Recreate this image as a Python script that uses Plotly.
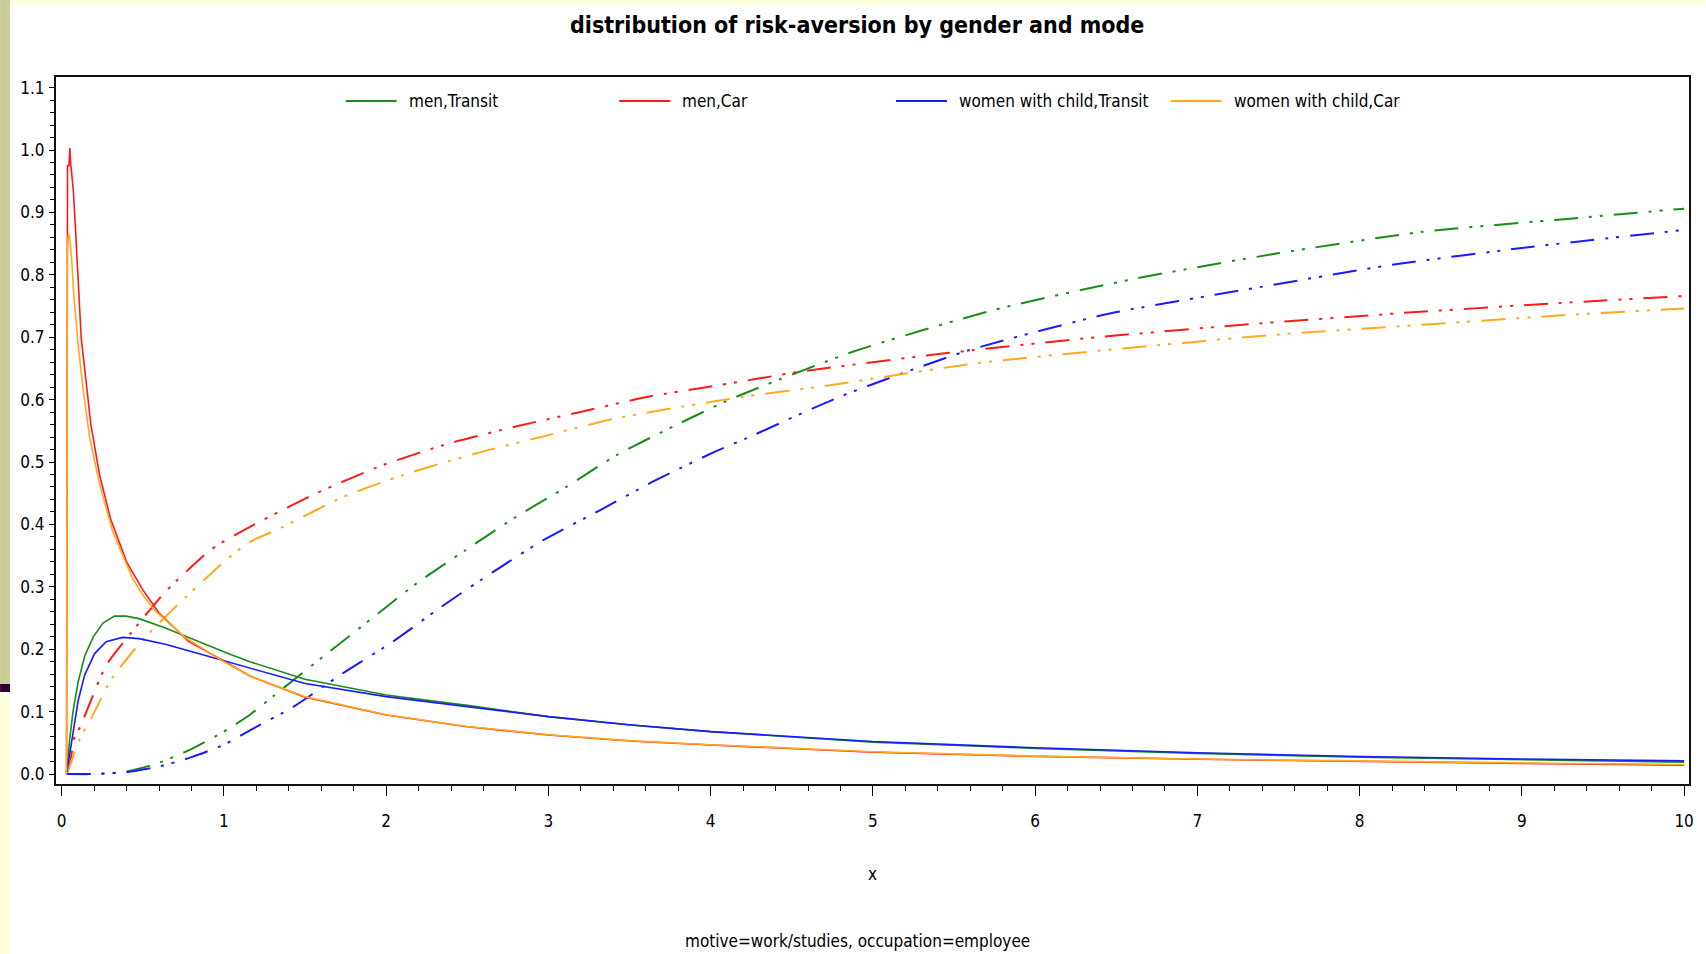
import plotly.graph_objects as go

# ------------------------------------------------------------------ data
groups = ["men,Transit", "men,Car", "women with child,Transit", "women with child,Car"]

# density curves (solid)
pdf_men_transit_x = [0.03, 0.05, 0.071, 0.101, 0.142, 0.193, 0.254, 0.325, 0.396, 0.477, 0.639, 0.842,
                     1.045, 1.16, 1.5, 2.0, 2.5, 3.0, 3.5, 4.0, 5.0, 6.0, 7.0, 8.0, 9.0, 10.0]
pdf_men_transit_y = [0.0, 0.057, 0.102, 0.147, 0.189, 0.219, 0.242, 0.253, 0.253, 0.249, 0.234, 0.212,
                     0.191, 0.180, 0.152, 0.1266, 0.110, 0.092, 0.0785, 0.068, 0.051, 0.041, 0.033, 0.027, 0.023, 0.019]

pdf_men_car_x = [0.03, 0.031, 0.032, 0.034, 0.036, 0.045, 0.05, 0.055, 0.062, 0.072, 0.086, 0.092, 0.1, 0.12,
                 0.15, 0.18, 0.233, 0.3, 0.4, 0.5, 0.6, 0.78, 1.0, 1.16, 1.5, 2.0, 2.5, 3.0, 3.5, 4.0,
                 5.0, 6.0, 7.0, 8.0, 9.0, 10.0]
pdf_men_car_y = [0.0, 0.5, 0.62, 0.82, 0.975, 0.975, 1.003, 0.98, 0.965, 0.935, 0.87, 0.83, 0.80, 0.70,
                 0.63, 0.56, 0.48, 0.41, 0.34, 0.295, 0.258, 0.213, 0.181, 0.157, 0.123, 0.0945, 0.0758, 0.0625,
                 0.053, 0.0465, 0.035, 0.0283, 0.0236, 0.0200, 0.0170, 0.0142]

pdf_women_transit_x = [0.03, 0.05, 0.071, 0.101, 0.142, 0.203, 0.274, 0.375, 0.477, 0.639, 0.842, 1.045,
                       1.16, 1.5, 2.0, 2.5, 3.0, 3.5, 4.0, 5.0, 6.0, 7.0, 8.0, 9.0, 10.0]
pdf_women_transit_y = [0.0, 0.034, 0.072, 0.117, 0.159, 0.193, 0.212, 0.219, 0.217, 0.208, 0.193, 0.178,
                       0.169, 0.145, 0.124, 0.108, 0.092, 0.079, 0.068, 0.052, 0.042, 0.034, 0.028, 0.024, 0.021]

pdf_women_car_x = [0.03, 0.034, 0.04, 0.047, 0.055, 0.061, 0.075, 0.1, 0.132, 0.172, 0.233, 0.314, 0.436,
                   0.5, 0.578, 0.76, 1.0, 1.16, 1.5, 2.0, 2.5, 3.0, 3.5, 4.0, 5.0, 6.0, 7.0, 8.0, 9.0, 10.0]
pdf_women_car_y = [0.0, 0.83, 0.862, 0.864, 0.845, 0.828, 0.767, 0.692, 0.616, 0.54, 0.465, 0.389, 0.314,
                   0.287, 0.261, 0.219, 0.18, 0.157, 0.124, 0.095, 0.0762, 0.063, 0.0535, 0.047, 0.0357,
                   0.0287, 0.0240, 0.0205, 0.0178, 0.0152]

# cumulative curves (dash-dot-dot)
cdf_men_transit_x = [0.03, 0.2, 0.4, 0.6, 0.8, 1.0, 1.16, 1.30, 1.65, 1.90, 2.19, 2.49, 2.80, 3.11, 3.42,
                     3.77, 4.135, 4.88, 5.75, 6.62, 7.485, 8.39, 9.30, 10.0]
cdf_men_transit_y = [0.0, 0.0, 0.004, 0.018, 0.04, 0.068, 0.095, 0.124, 0.196, 0.247, 0.306, 0.359, 0.412,
                     0.46, 0.511, 0.557, 0.602, 0.677, 0.744, 0.794, 0.834, 0.869, 0.89, 0.906]

cdf_men_car_x = [0.03, 0.05, 0.08, 0.12, 0.162, 0.274, 0.446, 0.639, 0.923, 1.16, 1.57, 1.98, 2.39, 2.80,
                 3.21, 3.62, 4.05, 4.56, 5.47, 6.38, 7.33, 8.275, 9.18, 10.0]
cdf_men_car_y = [0.0, 0.015, 0.06, 0.078, 0.106, 0.174, 0.232, 0.292, 0.36, 0.396, 0.45, 0.495, 0.53, 0.557,
                 0.581, 0.605, 0.623, 0.645, 0.675, 0.70, 0.721, 0.739, 0.754, 0.766]

cdf_women_transit_x = [0.03, 0.2, 0.4, 0.6, 0.8, 1.0, 1.16, 1.43, 1.73, 2.04, 2.34, 2.66, 2.97, 3.32, 3.64,
                       4.03, 4.22, 4.80, 5.59, 6.46, 7.29, 8.20, 9.065, 10.0]
cdf_women_transit_y = [0.0, 0.0, 0.003, 0.012, 0.027, 0.047, 0.07, 0.108, 0.161, 0.212, 0.268, 0.324, 0.375,
                       0.423, 0.468, 0.517, 0.538, 0.605, 0.679, 0.738, 0.776, 0.816, 0.845, 0.872]

cdf_women_car_x = [0.03, 0.06, 0.1, 0.183, 0.314, 0.5, 0.73, 1.0, 1.16, 1.365, 1.734, 2.103, 2.555, 2.966,
                   3.418, 3.83, 4.238, 4.68, 5.63, 6.54, 7.485, 8.39, 9.3, 10.0]
cdf_women_car_y = [0.0, 0.02, 0.05, 0.09, 0.155, 0.215, 0.275, 0.34, 0.372, 0.396, 0.444, 0.479, 0.514,
                   0.541, 0.57, 0.589, 0.606, 0.621, 0.658, 0.682, 0.704, 0.72, 0.736, 0.746]

x_tick_values = [0, 1, 2, 3, 4, 5, 6, 7, 8, 9, 10]
y_tick_values = [0.0, 0.1, 0.2, 0.3, 0.4, 0.5, 0.6, 0.7, 0.8, 0.9, 1.0, 1.1]

title_text = "distribution of risk-aversion by gender and mode"
x_label = "x"
footnote_text = "motive=work/studies, occupation=employee"

# ------------------------------------------------------------------ styles / layout
colors = ["#1a8c1a", "#ff1a1a", "#1a1aff", "#ffaa1e"]
FONT = "Liberation Sans Narrow, Arial Narrow, DejaVu Sans Condensed, sans-serif"
TXT = 17
W, H = 1706, 954
L, R, T, B = 56, 15, 77, 170
PW, PH = W - L - R, H - T - B


def pxx(p):
    return (p - L) / PW


def pxy(p):
    return (H - B - p) / PH


pdfs = [(pdf_men_transit_x, pdf_men_transit_y), (pdf_men_car_x, pdf_men_car_y),
        (pdf_women_transit_x, pdf_women_transit_y), (pdf_women_car_x, pdf_women_car_y)]
cdfs = [(cdf_men_transit_x, cdf_men_transit_y), (cdf_men_car_x, cdf_men_car_y),
        (cdf_women_transit_x, cdf_women_transit_y), (cdf_women_car_x, cdf_women_car_y)]

fig = go.Figure()
dash_pattern = "24px,11px,3px,8px,3px,11px"
for name, col, (cx, cy) in zip(groups, colors, cdfs):
    fig.add_trace(go.Scatter(x=cx, y=cy, mode="lines", name=name, showlegend=False,
                             line=dict(color=col, width=2, dash=dash_pattern, shape="spline", smoothing=0.6)))
for name, col, (dx, dy) in zip(groups, colors, pdfs):
    fig.add_trace(go.Scatter(x=dx, y=dy, mode="lines", name=name, showlegend=False,
                             line=dict(color=col, width=1.6)))

shapes = []
# slide decoration
shapes.append(dict(type="rect", xref="paper", yref="paper", x0=pxx(0), x1=pxx(W), y0=pxy(0), y1=pxy(5),
                   fillcolor="#ffffe0", line=dict(width=0), layer="below"))
shapes.append(dict(type="rect", xref="paper", yref="paper", x0=pxx(0), x1=pxx(10), y0=pxy(0), y1=pxy(684),
                   fillcolor="#cccc99", line=dict(width=0), layer="below"))
shapes.append(dict(type="rect", xref="paper", yref="paper", x0=pxx(0), x1=pxx(10), y0=pxy(684), y1=pxy(692),
                   fillcolor="#330033", line=dict(width=0), layer="below"))
shapes.append(dict(type="rect", xref="paper", yref="paper", x0=pxx(0), x1=pxx(10), y0=pxy(692), y1=pxy(H),
                   fillcolor="#ffffe0", line=dict(width=0), layer="below"))

annotations = []
legend_line_x0 = [346, 620, 897, 1172]
legend_y = 101
for name, col, lx in zip(groups, colors, legend_line_x0):
    shapes.append(dict(type="line", xref="paper", yref="paper", x0=pxx(lx), x1=pxx(lx + 51),
                       y0=pxy(legend_y), y1=pxy(legend_y), line=dict(color=col, width=2)))
    annotations.append(dict(text=name, xref="paper", yref="paper", x=pxx(lx + 61), y=pxy(legend_y),
                            xanchor="left", yanchor="middle", showarrow=False,
                            font=dict(family=FONT, size=TXT, color="#000000")))

annotations.append(dict(text="<b>" + title_text + "</b>", xref="paper", yref="paper", x=pxx(858), y=pxy(25),
                        xanchor="center", yanchor="middle", showarrow=False,
                        font=dict(family=FONT, size=23, color="#000000")))
annotations.append(dict(text=x_label, xref="paper", yref="paper", x=0.5, y=pxy(874),
                        xanchor="center", yanchor="middle", showarrow=False,
                        font=dict(family=FONT, size=TXT, color="#000000")))
annotations.append(dict(text=footnote_text, xref="paper", yref="paper", x=pxx(858), y=pxy(941),
                        xanchor="center", yanchor="middle", showarrow=False,
                        font=dict(family=FONT, size=TXT, color="#000000")))

fig.update_layout(
    width=W, height=H,
    margin=dict(l=L, r=R, t=T, b=B, pad=0),
    paper_bgcolor="white", plot_bgcolor="white",
    showlegend=False,
    shapes=shapes, annotations=annotations,
    font=dict(family=FONT, size=TXT, color="#000000"),
)
fig.update_xaxes(range=[-0.035, 10.03], tickvals=x_tick_values, ticks="outside", ticklen=10, tickwidth=1.3,
                 tickcolor="#000", showline=True, linecolor="#111", linewidth=2, mirror=True,
                 showgrid=False, zeroline=False, ticklabelstandoff=11,
                 tickfont=dict(family=FONT, size=TXT, color="#000"),
                 minor=dict(dtick=0.2, tick0=0, ticks="outside", ticklen=5, tickcolor="#000", showgrid=False))
fig.update_yaxes(range=[-0.016, 1.117], tickvals=y_tick_values, tickformat=".1f", ticks="outside", ticklen=5,
                 tickwidth=1.3, tickcolor="#000", showline=True, linecolor="#111", linewidth=2, mirror=True,
                 showgrid=False, zeroline=False, ticklabelstandoff=1,
                 tickfont=dict(family=FONT, size=TXT, color="#000"),
                 minor=dict(dtick=0.02, tick0=0, ticks="outside", ticklen=4, tickcolor="#000", showgrid=False))

fig.write_html("out.html", config={"displayModeBar": False},
               post_script="document.body.style.margin='0';")
